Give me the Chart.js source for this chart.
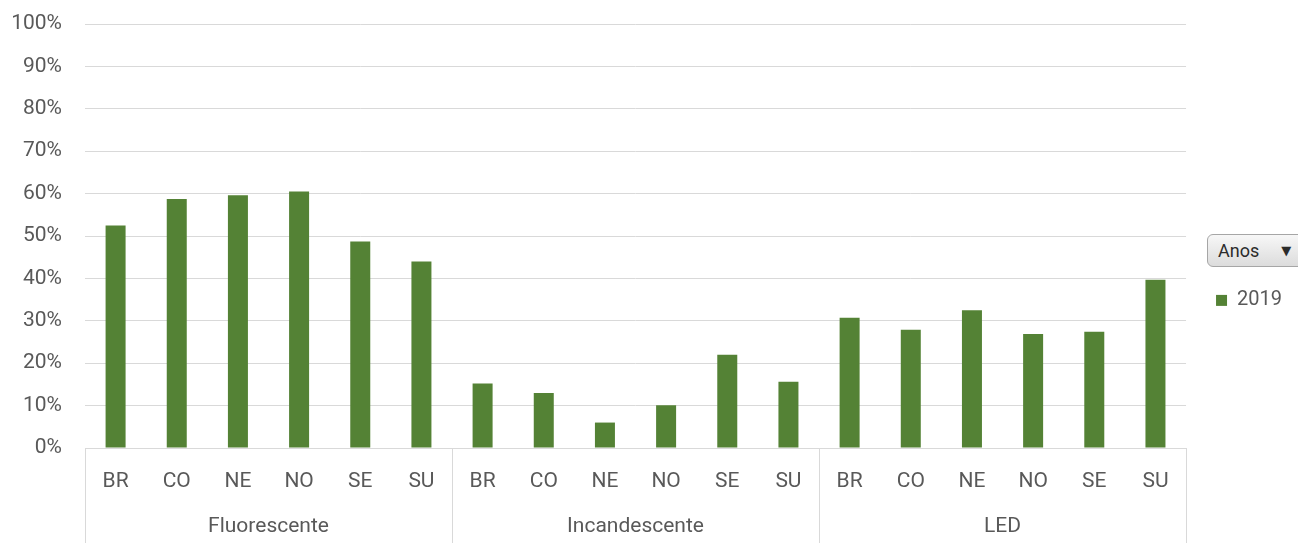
<!DOCTYPE html>
<html>
<head>
<meta charset="utf-8">
<script src="https://cdn.jsdelivr.net/npm/chart.js@4/dist/chart.umd.min.js"></script>
<style>
    html, body { margin: 0; padding: 0; background: #fff; }
    #wrap { position: relative; width: 1298px; height: 545px; overflow: hidden; }
    #anos-button {
        position: absolute; left: 1207px; top: 234px; width: 110px; height: 33px;
        box-sizing: border-box; border: 1px solid #a6a6a6; border-radius: 6px;
        background: linear-gradient(#f7f7f7, #dcdcdc);
        font-family: Roboto, sans-serif; font-size: 18px; color: #2b2b2b;
        line-height: 31px; padding-left: 10px; z-index: 0;
    }
    #anos-button span { font-family: "DejaVu Sans", sans-serif; font-size: 13px; margin-left: 22px; vertical-align: 2px; }
    canvas { position: absolute; left: 0; top: 0; z-index: 1; }
</style>
</head>
<body>
<div id="wrap">
    <div id="anos-button">Anos<span>▼</span></div>
    <canvas id="chart" width="1298" height="545"></canvas>
</div>
<script>
const regions = ["BR", "CO", "NE", "NO", "SE", "SU"];
const lampTypes = ["Fluorescente", "Incandescente", "LED"];
const year = "2019";

// percent per region, one list per lamp type
const fluorescente = [52.5, 58.7, 59.6, 60.5, 48.7, 44.0];
const incandescente = [15.2, 13.0, 6.0, 10.1, 22.0, 15.6];
const led = [30.7, 27.9, 32.5, 26.9, 27.4, 39.7];

const yMin = 0;
const yMax = 100;
const yStep = 10;

const labels = lampTypes.flatMap(() => regions);
const values = [...fluorescente, ...incandescente, ...led];

const textColor = "#595959";
const gridColor = "#d9d9d9";
const font = {family: "Roboto", size: 21};

// vertical lines between the lamp type groups, under the axis
const groupDividers = {
    id: "groupDividers",
    afterDraw(chart) {
        const x = chart.scales.x;
        const x2 = chart.scales.x2;
        const ctx = chart.ctx;
        const half = (x.getPixelForValue(1) - x.getPixelForValue(0)) / 2;
        ctx.save();
        ctx.strokeStyle = gridColor;
        ctx.lineWidth = 1;
        for (let i = 0; i <= lampTypes.length; i++) {
            const px = Math.round(x.getPixelForValue(i * regions.length) - half) + 0.5;
            ctx.beginPath();
            ctx.moveTo(px, x.top);
            ctx.lineTo(px, x2.bottom);
            ctx.stroke();
        }
        ctx.restore();
    }
};

new Chart(document.getElementById("chart"), {
    type: "bar",
    data: {
        labels: labels,
        datasets: [{
            label: year,
            data: values,
            backgroundColor: "#548235",
            categoryPercentage: 1,
            barPercentage: 0.327
        }]
    },
    options: {
        responsive: false,
        animation: false,
        layout: {padding: {left: 0, top: 24, right: 6, bottom: 2}},
        plugins: {
            tooltip: {enabled: false},
            legend: {
                position: "right",
                align: "start",
                title: {display: true, text: "", font: {size: 12}, padding: {top: 222, bottom: 0}},
                labels: {
                    boxWidth: 11,
                    boxHeight: 11,
                    padding: 30,
                    color: textColor,
                    font: {family: "Roboto", size: 20}
                }
            }
        },
        scales: {
            y: {
                min: yMin,
                max: yMax,
                ticks: {
                    stepSize: yStep,
                    color: textColor,
                    font: font,
                    padding: 23,
                    callback: (v) => v + "%"
                },
                grid: {color: gridColor, drawTicks: false},
                border: {display: false},
                afterFit: (scale) => {
                    scale.width = 85;
                    scale.paddingTop = 0;
                    scale.paddingBottom = 0;
                }
            },
            x: {
                weight: 0,
                ticks: {color: textColor, font: font, maxRotation: 0, autoSkip: false, padding: 21},
                grid: {offset: true, drawOnChartArea: false, drawTicks: false},
                border: {display: true, color: gridColor},
                afterFit: (scale) => { scale.height = 50; }
            },
            x2: {
                type: "category",
                position: "bottom",
                weight: 1,
                labels: lampTypes,
                offset: true,
                ticks: {color: textColor, font: font, maxRotation: 0, padding: 16},
                grid: {display: false, drawTicks: false},
                border: {display: false},
                afterFit: (scale) => { scale.height = 45; }
            }
        }
    },
    plugins: [groupDividers]
});
</script>
</body>
</html>
